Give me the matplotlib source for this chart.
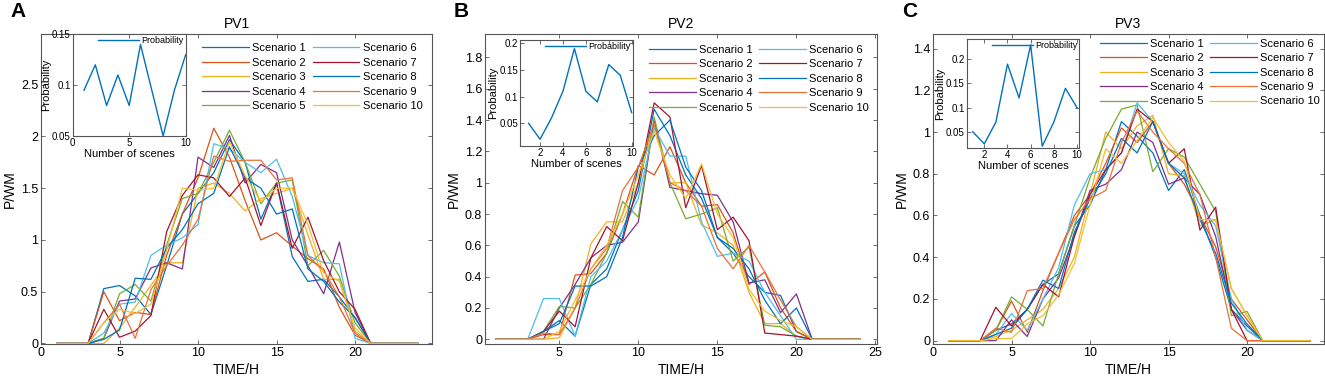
import numpy as np
import matplotlib
matplotlib.use("Agg")
import matplotlib.pyplot as plt

plt.rcParams['font.family'] = ['Liberation Sans', 'DejaVu Sans']

hours = list(range(1, 25))
scenario_names = [f"Scenario {i}" for i in range(1, 11)]
scene_idx = list(range(1, 11))

# values for hours 4..20 (hours 1-3 and 21-24 are zero)
pv1_mid = [
    [0.53, 0.56, 0.46, 0.28, 0.75, 1.25, 1.45, 1.65, 1.97, 1.75, 1.20, 1.55, 0.84, 0.60, 0.62, 0.45, 0.25],
    [0.50, 0.22, 0.30, 0.28, 0.85, 1.25, 1.60, 2.08, 1.80, 1.38, 1.00, 1.07, 0.94, 0.82, 0.72, 0.35, 0.08],
    [0.00, 0.15, 0.35, 0.56, 0.78, 0.78, 1.50, 1.55, 1.45, 1.28, 1.40, 1.45, 1.50, 1.05, 0.62, 0.62, 0.12],
    [0.05, 0.41, 0.43, 0.73, 0.78, 0.72, 1.80, 1.70, 2.01, 1.55, 1.73, 1.65, 1.00, 0.75, 0.48, 0.98, 0.30],
    [0.05, 0.48, 0.57, 0.41, 0.95, 1.40, 1.45, 1.75, 2.06, 1.75, 1.35, 1.55, 1.58, 0.75, 0.90, 0.65, 0.20],
    [0.10, 0.38, 0.40, 0.85, 0.95, 1.02, 1.15, 1.93, 1.88, 1.75, 1.65, 1.78, 1.42, 0.85, 0.78, 0.77, 0.05],
    [0.33, 0.06, 0.12, 0.27, 1.08, 1.43, 1.63, 1.60, 1.42, 1.60, 1.14, 1.55, 0.92, 1.22, 0.80, 0.50, 0.33],
    [0.04, 0.13, 0.63, 0.62, 0.92, 1.10, 1.35, 1.45, 1.90, 1.60, 1.50, 1.25, 1.30, 0.72, 0.60, 0.40, 0.25],
    [0.20, 0.38, 0.05, 0.52, 0.75, 0.95, 1.20, 1.81, 1.76, 1.77, 1.77, 1.58, 1.60, 0.85, 0.70, 0.45, 0.10],
    [0.20, 0.33, 0.29, 0.38, 0.90, 1.50, 1.48, 1.50, 1.95, 1.62, 1.37, 1.50, 1.50, 1.15, 0.68, 0.60, 0.15],
]
pv2_mid = [
    [0.05, 0.12, 0.02, 0.35, 0.45, 0.70, 0.95, 1.47, 1.30, 1.05, 0.90, 0.65, 0.55, 0.40, 0.30, 0.28, 0.05],
    [0.03, 0.03, 0.41, 0.42, 0.55, 0.80, 1.11, 1.05, 1.23, 1.00, 0.85, 0.86, 0.68, 0.35, 0.43, 0.20, 0.05],
    [0.00, 0.01, 0.20, 0.61, 0.75, 0.75, 1.00, 1.38, 1.00, 1.00, 0.73, 0.68, 0.60, 0.30, 0.10, 0.10, 0.02],
    [0.00, 0.20, 0.35, 0.52, 0.60, 0.62, 0.75, 1.40, 0.97, 0.95, 0.93, 0.92, 0.75, 0.36, 0.38, 0.17, 0.29],
    [0.05, 0.21, 0.20, 0.35, 0.55, 0.88, 0.78, 1.42, 1.00, 0.77, 0.80, 0.84, 0.50, 0.59, 0.09, 0.08, 0.02],
    [0.26, 0.26, 0.02, 0.40, 0.50, 0.70, 0.90, 1.35, 1.17, 1.17, 0.75, 0.53, 0.55, 0.50, 0.30, 0.15, 0.00],
    [0.05, 0.18, 0.08, 0.52, 0.72, 0.63, 1.00, 1.51, 1.42, 0.84, 1.11, 0.70, 0.78, 0.63, 0.04, 0.03, 0.02],
    [0.05, 0.10, 0.34, 0.34, 0.40, 0.65, 1.10, 1.30, 1.40, 1.10, 0.95, 0.65, 0.58, 0.45, 0.25, 0.10, 0.20],
    [0.04, 0.03, 0.20, 0.45, 0.58, 0.95, 1.10, 1.38, 1.00, 0.95, 0.85, 0.58, 0.45, 0.60, 0.43, 0.25, 0.08],
    [0.00, 0.05, 0.25, 0.45, 0.60, 0.80, 1.05, 1.33, 1.05, 0.90, 1.12, 0.80, 0.65, 0.32, 0.18, 0.12, 0.08],
]
pv3_mid = [
    [0.05, 0.08, 0.15, 0.27, 0.32, 0.55, 0.65, 0.82, 1.05, 0.98, 0.90, 0.72, 0.82, 0.60, 0.40, 0.15, 0.07],
    [0.05, 0.19, 0.04, 0.24, 0.42, 0.60, 0.70, 0.85, 1.02, 0.95, 1.05, 0.85, 0.75, 0.60, 0.45, 0.20, 0.10],
    [0.02, 0.05, 0.10, 0.15, 0.25, 0.40, 0.70, 1.00, 0.92, 1.03, 1.08, 0.80, 0.79, 0.55, 0.58, 0.25, 0.12],
    [0.00, 0.10, 0.02, 0.20, 0.30, 0.50, 0.72, 0.75, 0.82, 1.00, 0.95, 0.75, 0.78, 0.70, 0.50, 0.15, 0.05],
    [0.05, 0.21, 0.15, 0.07, 0.32, 0.55, 0.78, 0.97, 1.11, 1.13, 0.81, 0.92, 0.88, 0.75, 0.62, 0.12, 0.14],
    [0.03, 0.13, 0.05, 0.20, 0.35, 0.65, 0.80, 0.82, 0.90, 1.14, 1.05, 0.85, 0.80, 0.65, 0.55, 0.20, 0.05],
    [0.16, 0.07, 0.15, 0.27, 0.21, 0.50, 0.70, 0.82, 0.90, 1.11, 1.05, 0.85, 0.92, 0.53, 0.64, 0.15, 0.00],
    [0.03, 0.06, 0.15, 0.29, 0.25, 0.52, 0.68, 0.80, 0.97, 0.90, 1.05, 0.85, 0.78, 0.58, 0.42, 0.18, 0.08],
    [0.06, 0.04, 0.24, 0.25, 0.42, 0.58, 0.68, 0.72, 0.95, 1.10, 1.00, 0.92, 0.85, 0.70, 0.40, 0.06, 0.00],
    [0.01, 0.01, 0.08, 0.12, 0.22, 0.37, 0.65, 0.92, 0.85, 0.96, 1.07, 0.95, 0.86, 0.58, 0.58, 0.25, 0.12],
]

prob1 = [0.095, 0.12, 0.08, 0.11, 0.08, 0.14, 0.095, 0.05, 0.095, 0.13]
prob2 = [0.05, 0.02, 0.06, 0.11, 0.19, 0.11, 0.09, 0.16, 0.14, 0.07]
prob3 = [0.05, 0.025, 0.07, 0.19, 0.12, 0.23, 0.02, 0.07, 0.14, 0.10]

titles = ["PV1", "PV2", "PV3"]
letters = ["A", "B", "C"]

colors = ['#0072BD', '#D95319', '#EDB120', '#7E2F8E', '#77AC30', '#4DBEEE', '#A2142F',
          '#0072BD', '#E8703A', '#F5BE30']

W, H = 1325, 379
fig = plt.figure(figsize=(W / 100, H / 100), dpi=100)

def fr(l, t, r, b):
    return [l / W, (H - b) / H, (r - l) / W, (b - t) / H]

main_pos = [fr(41, 34, 432, 344), fr(485, 34, 877, 344), fr(933, 34, 1324, 344)]
inset_pos = [fr(72.7, 34.3, 185.7, 136), fr(520, 40, 632.7, 145.7), fr(966.7, 39, 1079.3, 147.7)]
xlims = [(0, 24.9), (0.3, 25.1), (0, 24.9)]
xticks = [[0, 5, 10, 15, 20], [5, 10, 15, 20, 25], [0, 5, 10, 15, 20]]
ylims = [(-0.005, 2.99), (-0.03, 1.95), (-0.016, 1.47)]
yticks = [[0, 0.5, 1, 1.5, 2, 2.5], [0, 0.2, 0.4, 0.6, 0.8, 1, 1.2, 1.4, 1.6, 1.8],
          [0, 0.2, 0.4, 0.6, 0.8, 1, 1.2, 1.4]]
ytl = [["0", "0.5", "1", "1.5", "2", "2.5"],
       ["0", "0.2", "0.4", "0.6", "0.8", "1", "1.2", "1.4", "1.6", "1.8"],
       ["0", "0.2", "0.4", "0.6", "0.8", "1", "1.2", "1.4"]]
in_xlims = [(0, 10), (0.25, 10.09), (0.48, 10.2)]
in_xticks = [[0, 5, 10], [2, 4, 6, 8, 10], [2, 4, 6, 8, 10]]
in_ylims = [(0.05, 0.15), (0.008, 0.206), (0.017, 0.242)]
in_yticks = [[0.05, 0.1, 0.15], [0.05, 0.1, 0.15, 0.2], [0.05, 0.1, 0.15, 0.2]]
in_ytl = [["0.05", "0.1", "0.15"], ["0.05", "0.1", "0.15", "0.2"], ["0.05", "0.1", "0.15", "0.2"]]
legend_anchor = [(0.995, 0.995), (1.0, 0.99), (1.01, 1.01)]

all_mid = [pv1_mid, pv2_mid, pv3_mid]
probs = [prob1, prob2, prob3]
axcol = '#555555'

def style(ax, fs, pad=2):
    for s in ax.spines.values():
        s.set_color(axcol)
        s.set_linewidth(0.8)
    ax.tick_params(direction='in', top=True, right=True, colors=axcol, labelcolor='black',
                   labelsize=fs, length=3, width=0.6, pad=pad)

for k in range(3):
    ax = fig.add_axes(main_pos[k])
    for i in range(10):
        vals = [0.0, 0.0, 0.0] + all_mid[k][i] + [0.0, 0.0, 0.0, 0.0]
        ax.plot(hours, vals, color=colors[i], lw=0.9, label=scenario_names[i])
    ax.set_xlim(*xlims[k])
    ax.set_ylim(*ylims[k])
    ax.set_xticks(xticks[k])
    ax.set_yticks(yticks[k])
    ax.set_yticklabels(ytl[k])
    style(ax, 9)
    ax.set_xlabel("TIME/H", fontsize=10, labelpad=3)
    ax.set_ylabel("P/WM", fontsize=10, labelpad=3)
    ax.set_title(titles[k], fontsize=10, pad=4)
    ax.legend(ncol=2, loc='upper right', bbox_to_anchor=legend_anchor[k], frameon=False,
              fontsize=8, handlelength=4.2, handletextpad=0.3, columnspacing=0.6,
              labelspacing=0.4, borderaxespad=0.3)

    ins = fig.add_axes(inset_pos[k])
    ins.plot(scene_idx, probs[k], color='#0072BD', lw=1.0, label='Probability')
    ins.set_xlim(*in_xlims[k])
    ins.set_ylim(*in_ylims[k])
    ins.set_xticks(in_xticks[k])
    ins.set_yticks(in_yticks[k])
    ins.set_yticklabels(in_ytl[k])
    style(ins, 7, pad=1.5)
    ins.set_xlabel("Number of scenes", fontsize=8, labelpad=1)
    ins.set_ylabel("Probability", fontsize=8, labelpad=0.5)
    ins.legend(loc='upper right', frameon=False, fontsize=6.5, handlelength=4.5,
               handletextpad=0.3, borderaxespad=0.1, borderpad=0.1)

    fig.text(main_pos[k][0] - 31 / W, 1 - 2 / H, letters[k], fontsize=15, fontweight='bold',
             va='top', ha='left')

fig.savefig("out.png", dpi=100)
